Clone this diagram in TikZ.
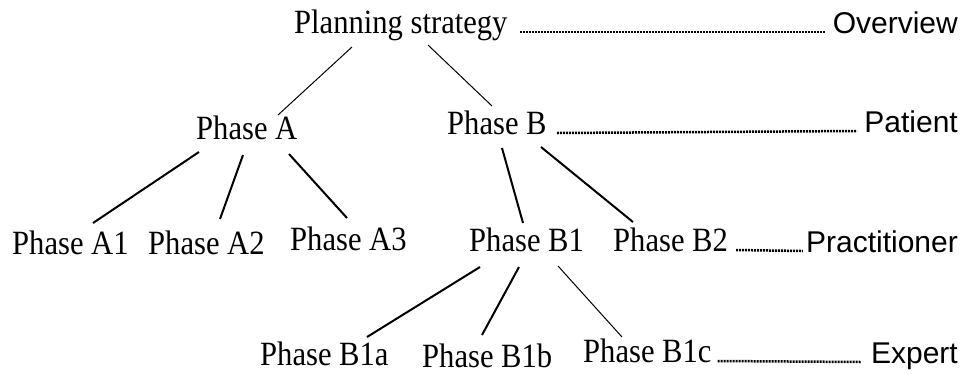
\documentclass[tikz,border=0pt]{standalone}
\usepackage{fontspec}
\newfontfamily\serifface[FakeStretch=0.9]{Liberation Serif}
\newfontfamily\sansface{Liberation Sans}
\begin{document}
\begin{tikzpicture}[x=1pt,y=-1pt,
  phase/.style={inner sep=0pt,anchor=base west,font=\serifface\fontsize{34}{34}\selectfont},
  level/.style={inner sep=0pt,anchor=base east,font=\sansface\fontsize{30}{30}\selectfont},
  thinedge/.style={line width=1pt},
  thickedge/.style={line width=2pt},
  leader/.style={line width=2.5pt,dash pattern=on 2pt off 1pt}]
\useasboundingbox (0,0) rectangle (967,373);
% tree nodes
\node[phase] (ps) at (294,33) {Planning strategy};
\node[phase] (pa) at (196,139) {Phase A};
\node[phase] (pb) at (447,134) {Phase B};
\node[phase] (a1) at (12,254) {Phase A1};
\node[phase] (a2) at (148,254) {Phase A2};
\node[phase] (a3) at (290,250) {Phase A3};
\node[phase] (b1) at (469,251) {Phase B1};
\node[phase] (b2) at (613,251) {Phase B2};
\node[phase] (b1a) at (260,365) {Phase B1a};
\node[phase] (b1b) at (422,367) {Phase B1b};
\node[phase] (b1c) at (583,362) {Phase B1c};
% level labels
\node[level] (ov) at (958,33) {Overview};
\node[level] (pt) at (958,132) {Patient};
\node[level] (pr) at (958,252) {Practitioner};
\node[level] (ex) at (958,363) {Expert};
% tree edges
\draw[thinedge] ([shift={(58,14)}]ps.base west) -- ([shift={(82,-24)}]pa.base west);
\draw[thinedge] ([shift={(134,12)}]ps.base west) -- ([shift={(45,-28)}]pb.base west);
\draw[thickedge] ([shift={(3,13)}]pa.base west) -- ([shift={(81,-31)}]a1.base west);
\draw[thickedge] ([shift={(47,16)}]pa.base west) -- ([shift={(72,-35)}]a2.base west);
\draw[thickedge] ([shift={(93,15)}]pa.base west) -- ([shift={(57,-32)}]a3.base west);
\draw[thickedge] ([shift={(55,14)}]pb.base west) -- ([shift={(54,-28)}]b1.base west);
\draw[thickedge] ([shift={(94,13)}]pb.base west) -- ([shift={(20,-29)}]b2.base west);
\draw[thickedge] ([shift={(11,16)}]b1.base west) -- ([shift={(107,-28)}]b1a.base west);
\draw[thickedge] ([shift={(50,16)}]b1.base west) -- ([shift={(60,-32)}]b1b.base west);
\draw[thinedge] ([shift={(89,15)}]b1.base west) -- ([shift={(39,-25)}]b1c.base west);
% dotted leaders
\draw[leader] ([shift={(12,-1)}]ps.base east) -- ([shift={(-7,-1)}]ov.base west);
\draw[leader] ([shift={(10,-1)}]pb.base east) -- ([shift={(-7,-1)}]pt.base west);
\draw[leader] ([shift={(8,-1)}]b2.base east) -- ([shift={(-3,-1)}]pr.base west);
\draw[leader] ([shift={(6,-1)}]b1c.base east) -- ([shift={(-10,-1)}]ex.base west);
\end{tikzpicture}
\end{document}
